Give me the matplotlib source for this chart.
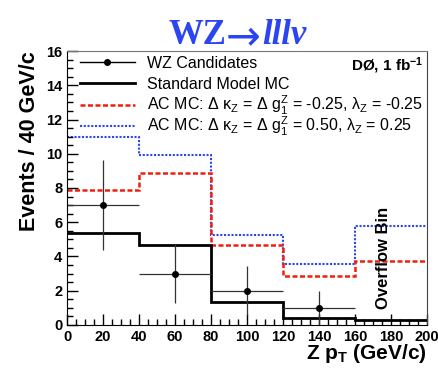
import numpy as np
import matplotlib
matplotlib.use("Agg")
import matplotlib.pyplot as plt

plt.rcParams["font.family"] = ["Liberation Sans", "DejaVu Sans"]
plt.rcParams["mathtext.fontset"] = "custom"
plt.rcParams["mathtext.rm"] = "Liberation Sans"
plt.rcParams["mathtext.it"] = "Liberation Sans:italic"
plt.rcParams["mathtext.bf"] = "Liberation Sans:bold"

# binning in Z pT (GeV/c), last bin is the overflow bin
bin_edges = [0, 40, 80, 120, 160, 200]
sm_mc = [5.36, 4.68, 1.36, 0.43, 0.30]
ac_neg = [7.90, 8.87, 4.66, 2.83, 3.74]
ac_pos = [11.0, 9.94, 5.26, 3.55, 5.79]

data_x = [20, 60, 100, 140]
data_y = [7, 3, 2, 1]

BLUE = "#2b45f0"
RED = "#f01e0e"
RED_LS = (0, (2, 1))
BLUE_LS = (0, (1, 0.8))

fig = plt.figure(figsize=(4.38, 3.70), dpi=100)
ax = fig.add_axes([0.153, 0.122, 0.822, 0.740])

ax.stairs(ac_pos, bin_edges, baseline=None, color=BLUE, lw=1.5, linestyle=BLUE_LS)
ax.stairs(ac_neg, bin_edges, baseline=None, color=RED, lw=1.8, linestyle=RED_LS)
ax.stairs(sm_mc, bin_edges, baseline=None, color="black", lw=2.0)
ax.errorbar(data_x, data_y, xerr=20, yerr=np.sqrt(data_y), fmt="o", color="black",
            ecolor="#333333", ms=4, lw=0.9, capsize=0)

ax.set_xlim(0, 200)
ax.set_ylim(0, 16)
ax.set_xticks(range(0, 201, 20))
ax.set_xticks(range(0, 201, 5), minor=True)
ax.set_yticks(range(0, 17, 2))
ax.set_yticks(np.arange(0, 16.1, 0.5), minor=True)
ax.tick_params(which="both", direction="in", top=False, right=False, labelsize=10.5)
ax.tick_params(which="major", length=8, width=1)
ax.tick_params(which="minor", length=4, width=1)
for lab in ax.get_xticklabels() + ax.get_yticklabels():
    lab.set_fontweight("bold")
ax.spines["top"].set_color("#777777")
ax.spines["right"].set_color("#444444")

ax.set_xlabel(r"Z p$_\mathbf{T}$ (GeV/c)", fontsize=15, fontweight="bold", loc="right",
              labelpad=-1)
ax.set_ylabel("Events / 40 GeV/c", fontsize=15.5, fontweight="bold", loc="top")

ax.text(176, 3.9, "Overflow Bin", rotation=90, ha="center", va="center",
        fontsize=12, fontweight="bold")
ax.text(0.99, 0.985, r"DØ, 1 fb$^\mathbf{-1}$", transform=ax.transAxes, ha="right", va="top",
        fontsize=11, fontweight="bold")

# title: "WZ" + arrow + italic "lllν"
serif = ["Liberation Serif", "DejaVu Serif"]
t1 = fig.text(0.384, 0.905, "WZ", ha="left", va="center", fontsize=25, fontweight="bold",
              color=BLUE, family=serif)
fig.add_artist(plt.Annotation("→", xy=(1.0, 0.45), xycoords=t1, ha="left", va="center",
                              fontsize=30, color=BLUE, family=["DejaVu Sans"]))
fig.add_artist(plt.Annotation("lllν", xy=(1.0, 0.5), xycoords=t1, xytext=(36, 0),
                              textcoords="offset pixels", ha="left", va="center",
                              fontsize=25, fontweight="bold", style="italic",
                              color=BLUE, family=serif))

# legend, ROOT style: evenly spaced rows, no frame
labels = [
    "WZ Candidates",
    "Standard Model MC",
    r"AC MC: Δ κ$_\mathrm{Z}$ = Δ g$^\mathrm{Z}_1$ = -0.25, λ$_\mathrm{Z}$ = -0.25",
    r"AC MC: Δ κ$_\mathrm{Z}$ = Δ g$^\mathrm{Z}_1$ = 0.50, λ$_\mathrm{Z}$ = 0.25",
]
styles = [
    dict(color="black", lw=1, marker="o", ms=4, markevery=[1]),
    dict(color="black", lw=2),
    dict(color=RED, lw=1.8, linestyle=RED_LS),
    dict(color=BLUE, lw=1.5, linestyle=BLUE_LS),
]
row_y = 0.960
for label, st in zip(labels, styles):
    ax.plot([0.036, 0.112, 0.189], [row_y] * 3, transform=ax.transAxes, clip_on=False, **st)
    ax.text(0.222, row_y - 0.021, label, transform=ax.transAxes, ha="left", va="baseline",
            fontsize=11.5)
    row_y -= 0.078

fig.savefig("out.png", dpi=100)
